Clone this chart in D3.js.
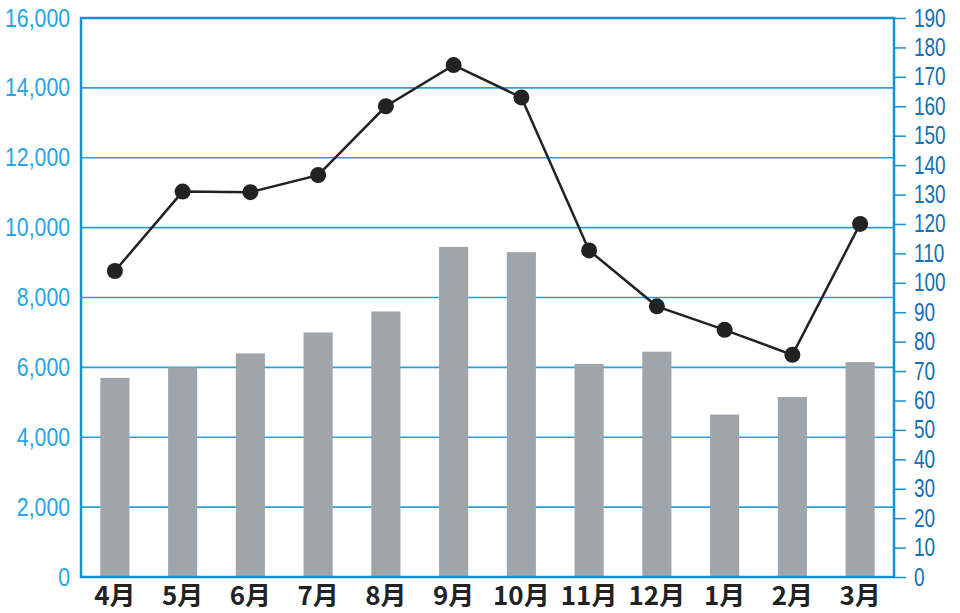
<!DOCTYPE html>
<html>
<head>
<meta charset="utf-8">
<script src="https://cdn.jsdelivr.net/npm/d3@7"></script>
<style>
  body { margin: 0; background: #fff; }
  svg { display: block; }
</style>
</head>
<body>
<div id="chart"></div>
<script>
(function() {
const width = 960,
      height = 613

// data
const months = ['4月', '5月', '6月', '7月', '8月', '9月', '10月', '11月', '12月', '1月', '2月', '3月']
const barValues = [5700, 6000, 6400, 7000, 7600, 9450, 9300, 6100, 6450, 4650, 5150, 6150]
const lineValues = [104, 131, 130.8, 136.6, 160, 174, 163, 111, 92, 84, 75.5, 120]
const leftTicks = [0, 2000, 4000, 6000, 8000, 10000, 12000, 14000, 16000]
const rightTicks = d3.range(0, 191, 10)

const left = 81, right = 894, top = 18, bottom = 577

const svg = d3.select('#chart')
  .append('svg')
  .attr('width', width)
  .attr('height', height)

const x = d3.scaleBand()
  .domain(months)
  .range([left, right])
  .paddingInner(0.57)
  .paddingOuter(0.285)

const yLeft = d3.scaleLinear().domain([0, 16000]).range([bottom, top])
const yRight = d3.scaleLinear().domain([0, 190]).range([bottom, top])

// gridlines
svg.append('g')
  .selectAll('line')
  .data(leftTicks)
  .enter().append('line')
  .attr('x1', left)
  .attr('x2', right)
  .attr('y1', d => yLeft(d))
  .attr('y2', d => yLeft(d))
  .attr('stroke', '#2a9fd8')
  .attr('stroke-width', 1.6)

// bars
svg.append('g')
  .selectAll('rect')
  .data(barValues)
  .enter().append('rect')
  .attr('x', (d, i) => x(months[i]))
  .attr('y', d => yLeft(d))
  .attr('width', x.bandwidth())
  .attr('height', d => bottom - yLeft(d))
  .attr('fill', '#9ea6ac')

// frame
svg.append('rect')
  .attr('x', left)
  .attr('y', top)
  .attr('width', right - left)
  .attr('height', bottom - top)
  .attr('fill', 'none')
  .attr('stroke', '#1590d2')
  .attr('stroke-width', 2.5)

// left axis (narrowed digits)
const leftScaleX = 0.85
const leftAxis = svg.append('g')
  .attr('transform', 'translate(' + left + ',0)')
  .call(d3.axisLeft(yLeft).tickValues(leftTicks).tickSize(0).tickPadding(11).tickFormat(d3.format(',')))
leftAxis.select('.domain').remove()
leftAxis.selectAll('text')
  .attr('x', -11 / leftScaleX)
  .attr('transform', 'scale(' + leftScaleX + ',1)')
  .attr('fill', '#27a4e2')
  .style('font-family', '"Liberation Sans", sans-serif')
  .style('font-size', '25px')

// right axis
const rightScaleX = 0.76
const rightAxis = svg.append('g')
  .attr('transform', 'translate(' + right + ',0)')
  .call(d3.axisRight(yRight).tickValues(rightTicks).tickSize(12).tickPadding(8))
rightAxis.select('.domain').remove()
rightAxis.selectAll('line')
  .attr('stroke', '#1590d2')
  .attr('stroke-width', 1.5)
rightAxis.selectAll('text')
  .attr('x', 20 / rightScaleX)
  .attr('transform', 'scale(' + rightScaleX + ',1)')
  .attr('fill', '#146fb4')
  .style('font-family', '"Liberation Sans", sans-serif')
  .style('font-size', '25px')

// line
const line = d3.line()
  .x((d, i) => x(months[i]) + x.bandwidth() / 2)
  .y(d => yRight(d))

svg.append('path')
  .datum(lineValues)
  .attr('d', line)
  .attr('fill', 'none')
  .attr('stroke', '#222')
  .attr('stroke-width', 2.5)

svg.append('g')
  .selectAll('circle')
  .data(lineValues)
  .enter().append('circle')
  .attr('cx', (d, i) => x(months[i]) + x.bandwidth() / 2)
  .attr('cy', d => yRight(d))
  .attr('r', 8)
  .attr('fill', '#222')

// month labels
svg.append('g')
  .selectAll('text')
  .data(months)
  .enter().append('text')
  .attr('x', d => x(d) + x.bandwidth() / 2)
  .attr('y', 605)
  .attr('text-anchor', 'middle')
  .attr('fill', '#222')
  .style('font-family', '"Noto Sans CJK JP", sans-serif')
  .style('font-weight', 'bold')
  .style('font-size', '26px')
  .text(d => d)

})()
</script>
</body>
</html>
